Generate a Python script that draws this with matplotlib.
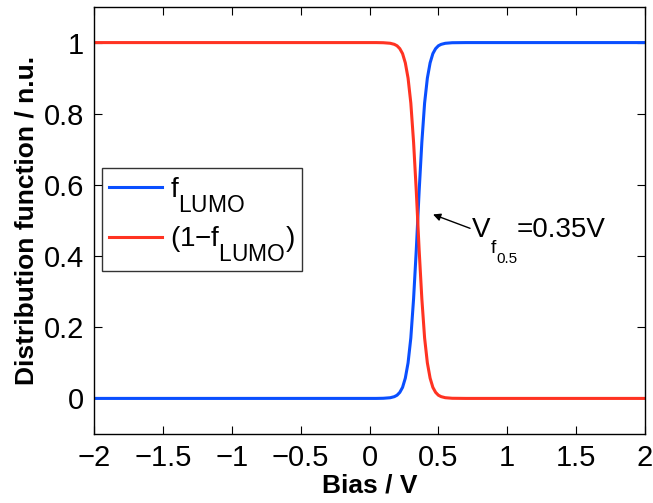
import matplotlib
matplotlib.use("Agg")
import matplotlib.pyplot as plt
import matplotlib._mathtext as _mt

# MATLAB-like subscripts: larger and lower
_mt.SHRINK_FACTOR = 0.82
_mt.FontConstantsBase.sub1 = 1.05

plt.rcParams['font.family'] = ['Liberation Sans', 'DejaVu Sans']
plt.rcParams['mathtext.fontset'] = 'custom'
plt.rcParams['mathtext.rm'] = 'Liberation Sans'
plt.rcParams['mathtext.it'] = 'Liberation Sans'

bias = [-2.0, -1.0, 0.0, 0.05, 0.10, 0.15, 0.18, 0.20, 0.22, 0.24, 0.26, 0.28,
        0.30, 0.32, 0.34, 0.35, 0.36, 0.38, 0.40, 0.42, 0.44, 0.46, 0.48,
        0.50, 0.52, 0.55, 0.60, 0.70, 1.0, 2.0]
f_lumo = [0.0, 0.0, 0.00002, 0.00002, 0.0004, 0.0019, 0.0049, 0.009, 0.017, 0.031, 0.057, 0.10,
          0.17, 0.28, 0.42, 0.50, 0.58, 0.72, 0.83, 0.90, 0.943, 0.969, 0.983,
          0.991, 0.995, 0.998, 0.9996, 1.0, 1.0, 1.0]
one_minus_f = [1.0, 1.0, 0.99998, 0.99998, 0.9996, 0.9981, 0.9951, 0.991, 0.983, 0.969, 0.943, 0.90,
               0.83, 0.72, 0.58, 0.50, 0.42, 0.28, 0.17, 0.10, 0.057, 0.031, 0.017,
               0.009, 0.005, 0.002, 0.0004, 0.0, 0.0, 0.0]

xticks = [-2, -1.5, -1, -0.5, 0, 0.5, 1, 1.5, 2]
xticklabels = ['\u22122', '\u22121.5', '\u22121', '\u22120.5', '0', '0.5', '1', '1.5', '2']
yticks = [0, 0.2, 0.4, 0.6, 0.8, 1]
yticklabels = ['0', '0.2', '0.4', '0.6', '0.8', '1']

v_half = 0.35
anno_text = '=0.35V'

fig = plt.figure(figsize=(6.53, 5.03), dpi=100)
ax = fig.add_axes([94/653, 1-434/503, (645-94)/653, (434-7)/503])

ax.plot(bias, f_lumo, color='#0a4fff', lw=2.2, label=r'$\mathregular{f_{LUMO}}$')
ax.plot(bias, one_minus_f, color='#ff3322', lw=2.2, label='(1\u2212$\\mathregular{f_{LUMO}}$)')

ax.set_xlim(-2, 2)
ax.set_ylim(-0.1, 1.1)
ax.set_xticks(xticks)
ax.set_xticklabels(xticklabels)
ax.set_yticks(yticks)
ax.set_yticklabels(yticklabels)
ax.tick_params(direction='in', length=6, width=0.8, labelsize=21, top=True, right=True, pad=7)
for s in ax.spines.values():
    s.set_linewidth(1.0)

ax.set_xlabel('Bias / V', fontsize=19, fontweight='bold', labelpad=1)
ax.set_ylabel('Distribution function / n.u.', fontsize=19, fontweight='bold', labelpad=4)

leg = ax.legend(loc='upper left', bbox_to_anchor=((102-94)/551, 1-(168-7)/427),
                fontsize=20, frameon=True, fancybox=False, edgecolor='black',
                handlelength=1.9, handletextpad=0.3, borderpad=0.25, labelspacing=0.35,
                borderaxespad=0)
leg.get_frame().set_linewidth(1.0)

ax.annotate('', xy=(0.461, 0.517), xytext=(0.73, 0.478),
            arrowprops=dict(arrowstyle='-|>', color='black', lw=1.0, mutation_scale=11,
                            shrinkA=0, shrinkB=0))
# text "V_{f_{0.5}}=0.35V" built from pieces (MATLAB-style nested subscripts)
anchor = (0.745, 0.455)
ax.annotate('V', xy=anchor, xytext=(0, 0), textcoords='offset pixels',
            fontsize=20, ha='left', va='baseline')
ax.annotate('f', xy=anchor, xytext=(19, -16), textcoords='offset pixels',
            fontsize=14, ha='left', va='baseline')
ax.annotate('0.5', xy=anchor, xytext=(24, -26), textcoords='offset pixels',
            fontsize=11, ha='left', va='baseline')
ax.annotate(anno_text, xy=anchor, xytext=(45, 0), textcoords='offset pixels',
            fontsize=20, ha='left', va='baseline')

fig.savefig('out.png', dpi=100)
